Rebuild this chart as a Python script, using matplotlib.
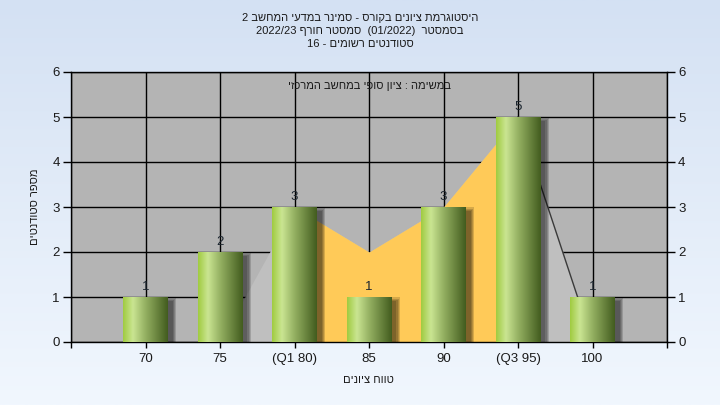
import re
import numpy as np
import matplotlib
matplotlib.use('Agg')
import matplotlib.pyplot as plt
import matplotlib.transforms as mtransforms
from matplotlib.patches import Rectangle

plt.rcParams['font.family'] = ['Liberation Sans', 'DejaVu Sans']

# ---- data ----
categories = ['70', '75', '(Q1 80)', '85', '90', '(Q3 95)', '100']
counts = [1, 2, 3, 1, 3, 5, 1]
area_values = [0, 0, 3, 2, 3, 5, 0]
q1_index = 2
q3_index = 5
yticks = [0, 1, 2, 3, 4, 5, 6]

title_lines = ['היסטוגרמת ציונים בקורס - סמינר במדעי המחשב 2',
               'בסמסטר  (01/2022)  סמסטר חורף 2022/23',
               'סטודנטים רשומים - 16']
note_text = 'במשימה : ציון סופי במחשב המרכזי'
xlabel_text = 'טווח ציונים'
ylabel_text = 'מספר סטודנטים'


def rtl(s):
    """Convert a logical-order RTL string to visual (left-to-right) order."""
    tokens = re.findall(r'[0-9A-Za-z](?:[0-9A-Za-z/.]*[0-9A-Za-z])?|.', s)
    mirror = {'(': ')', ')': '('}
    return ''.join(mirror.get(t, t) if len(t) == 1 else t for t in reversed(tokens))


W, H = 720, 405
fig = plt.figure(figsize=(W / 100, H / 100), dpi=100)

# figure background gradient
bg = fig.add_axes([0, 0, 1, 1], zorder=-10)
top_c = np.array([212, 225, 243]) / 255
bot_c = np.array([241, 247, 254]) / 255
t = np.linspace(0, 1, 256)[:, None, None]
bg.imshow(top_c + (bot_c - top_c) * t, aspect='auto', extent=(0, 1, 0, 1))
bg.set_axis_off()

L, R, T, B = 71, 667, 72, 342
ax = fig.add_axes([L / W, 1 - B / H, (R - L) / W, (B - T) / H])
ax.set_facecolor('#b4b4b4')

x = np.arange(len(categories))
xmin, xmax = -1, len(categories)
ymin, ymax = yticks[0], yticks[-1]

# grid
ax.set_axisbelow(True)
ax.set_xticks(np.arange(xmin, xmax + 1))
ax.set_xticklabels([''] + categories + [''])
ax.set_yticks(yticks)
ax.grid(True, color='black', linewidth=1)

# background area series
ax.fill_between(x, area_values, color='#bfbfbf', linewidth=0, zorder=1)
ax.fill_between(x[q1_index:q3_index + 1], area_values[q1_index:q3_index + 1],
                color='#ffca58', linewidth=0, zorder=1.5)
ax.plot(x[q3_index:q3_index + 2], area_values[q3_index:q3_index + 2],
        color='#3a3a3a', linewidth=1, zorder=1.6)

# bars with gradient and shadow
bw = 0.6
px_x = (xmax - xmin) / (R - L)
px_y = (ymax - ymin) / (B - T)
stops = np.array([0.0, 0.22, 0.5, 1.0])
cols = np.array([[160, 203, 64], [202, 229, 146], [148, 176, 98], [66, 92, 30]]) / 255
g = np.linspace(0, 1, 200)
grad = np.stack([np.interp(g, stops, cols[:, k]) for k in range(3)], axis=-1)[None, :, :]

for xi, v in zip(x, counts):
    # shadow
    for k in range(4):
        e = k * 1.2
        ax.add_patch(Rectangle((xi - bw / 2 + (5 - e) * px_x, -(4 + e) * px_y),
                               bw + 2 * e * px_x, v + 2 * e * px_y - 3 * px_y * 0,
                               facecolor='black', alpha=0.16, linewidth=0, zorder=3))
    ax.imshow(grad, extent=(xi - bw / 2, xi + bw / 2, 0, v), aspect='auto',
              interpolation='bilinear', zorder=4)
    ax.annotate(str(v), (xi, v), xytext=(0, 3), textcoords='offset points',
                ha='center', va='bottom', fontsize=9.5, color='#1c2630', zorder=5)

ax.set_xlim(xmin, xmax)
ax.set_ylim(ymin, ymax)

for s in ax.spines.values():
    s.set_color('black')
    s.set_linewidth(1)

ax.tick_params(axis='y', left=True, right=True, labelleft=True, labelright=True,
               length=6, width=1, labelsize=9.5, pad=2, labelcolor='#1a1a1a')
ax.tick_params(axis='x', length=4, width=1, labelsize=9.5, pad=4, labelcolor='#1a1a1a')

ax.text(0.5, 0.948, rtl(note_text), transform=ax.transAxes, ha='center', va='center',
        fontsize=8, color='#1a1a1a', zorder=6)

for i, line in enumerate(title_lines):
    fig.text(0.5, 1 - (18 + 13 * i) / H, rtl(line), ha='center', va='center',
             fontsize=8, color='#1a1a1a')

fig.text(368 / W, 1 - 380 / H, rtl(xlabel_text), ha='center', va='center',
         fontsize=8, color='#1a1a1a')
fig.text(35 / W, 1 - 207 / H, rtl(ylabel_text), ha='center', va='center',
         rotation=90, fontsize=8, color='#1a1a1a')

fig.savefig('out.png', dpi=100)
